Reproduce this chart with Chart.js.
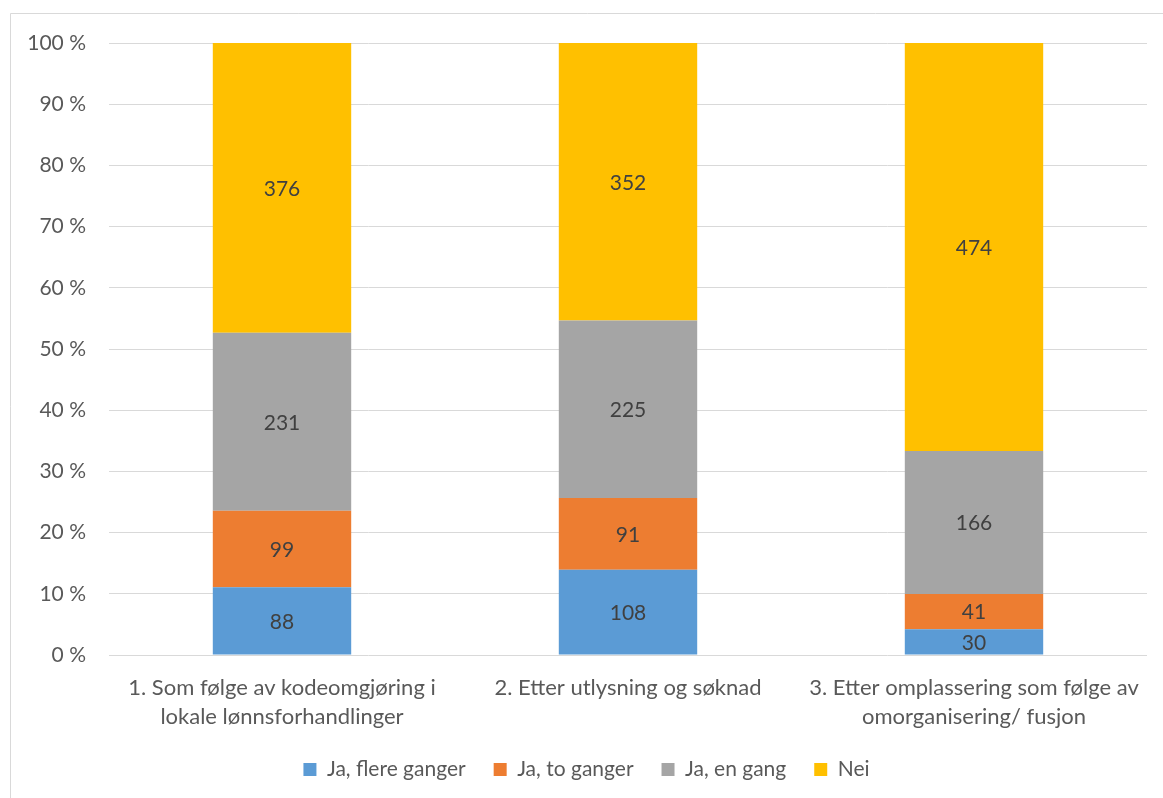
<!DOCTYPE html>
<html>
<head>
<meta charset="utf-8">
<script src="https://cdn.jsdelivr.net/npm/chart.js@4"></script>
<style>
  html, body { margin: 0; padding: 0; background: #fff; }
  #wrap { width: 1163px; height: 798px; position: relative; }
</style>
</head>
<body>
<div id="wrap"><canvas id="c" width="1163" height="798"></canvas></div>
<script>
// Categories (x-axis labels, split over two lines)
const categories = [
  ["1. Som følge av kodeomgjøring i", "lokale lønnsforhandlinger"],
  "2. Etter utlysning og søknad",
  ["3. Etter omplassering som følge av", "omorganisering/ fusjon"]
];

// Answer counts per category
const jaFlereGanger = [88, 108, 30];
const jaToGanger    = [99, 91, 41];
const jaEnGang      = [231, 225, 166];
const nei           = [376, 352, 474];

const seriesNames  = ["Ja, flere ganger", "Ja, to ganger", "Ja, en gang", "Nei"];
const seriesColors = ["#5B9BD5", "#ED7D31", "#A5A5A5", "#FFC000"];
const yTickValues  = [0, 10, 20, 30, 40, 50, 60, 70, 80, 90, 100];

const counts = [jaFlereGanger, jaToGanger, jaEnGang, nei];
const totals = categories.map((_, i) => counts.reduce((s, arr) => s + arr[i], 0));
const shares = counts.map(arr => arr.map((v, i) => v / totals[i] * 100));

const FONT = "Lato, 'Open Sans', sans-serif";
const FS = 21;

// Writes the raw count in the middle of each stacked segment
const countLabels = {
  id: 'countLabels',
  afterDatasetsDraw(chart) {
    const ctx = chart.ctx;
    ctx.save();
    ctx.font = FS + "px " + FONT;
    ctx.fillStyle = "#404040";
    ctx.textAlign = "center";
    ctx.textBaseline = "middle";
    chart.data.datasets.forEach((ds, di) => {
      const meta = chart.getDatasetMeta(di);
      meta.data.forEach((bar, i) => {
        const y = (bar.y + bar.base) / 2;
        ctx.fillText(String(counts[di][i]), bar.x, y + 1);
      });
    });
    ctx.restore();
  }
};

// Thin frame around the chart; legend nudged right inside that frame
const frame = {
  id: 'frame',
  afterLayout(chart) {
    if (chart.legend) {
      chart.legend.left += 13;
      chart.legend.right += 13;
    }
  },
  beforeDraw(chart) {
    const ctx = chart.ctx;
    ctx.save();
    ctx.fillStyle = "#fff";
    ctx.fillRect(0, 0, chart.width, chart.height);
    ctx.strokeStyle = "#D9D9D9";
    ctx.lineWidth = 1;
    ctx.beginPath();
    ctx.moveTo(10.5, chart.height + 5);
    ctx.lineTo(10.5, 13.5);
    ctx.lineTo(chart.width + 5, 13.5);
    ctx.stroke();
    ctx.restore();
  }
};

new Chart(document.getElementById('c'), {
  type: 'bar',
  data: {
    labels: categories,
    datasets: seriesNames.map((name, k) => ({
      label: name,
      data: shares[k],
      backgroundColor: seriesColors[k],
      borderWidth: 0,
      barPercentage: 0.4,
      categoryPercentage: 1.0
    }))
  },
  options: {
    responsive: false,
    animation: false,
    devicePixelRatio: 1,
    layout: { padding: { top: 43, right: 16, bottom: 8, left: 0 } },
    plugins: {
      tooltip: { enabled: false },
      legend: {
        position: 'bottom',
        labels: {
          font: { family: FONT, size: FS },
          color: "#595959",
          boxWidth: 13,
          boxHeight: 13,
          padding: 28
        }
      }
    },
    scales: {
      x: {
        stacked: true,
        grid: { display: false, drawTicks: false },
        border: { display: false },
        ticks: {
          font: { family: FONT, size: 22, lineHeight: 1.33 },
          color: "#595959",
          padding: 18,
          maxRotation: 0,
          autoSkip: false
        },
        afterFit(scale) { scale.height = 76; }
      },
      y: {
        stacked: true,
        min: 0,
        max: 100,
        afterBuildTicks(scale) { scale.ticks = yTickValues.map(v => ({ value: v })); },
        grid: { color: "#D9D9D9", lineWidth: 1, drawTicks: false },
        border: { display: false },
        ticks: {
          font: { family: FONT, size: FS },
          color: "#595959",
          padding: 23,
          callback: v => v + " %"
        },
        afterFit(scale) { scale.width = 109; }
      }
    }
  },
  plugins: [frame, countLabels]
});
</script>
</body>
</html>
